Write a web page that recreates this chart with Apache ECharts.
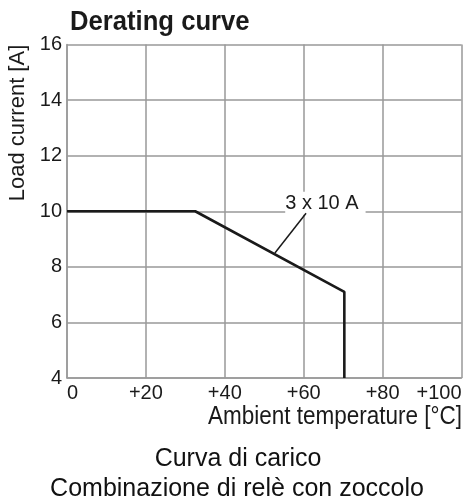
<!DOCTYPE html>
<html>
<head>
<meta charset="utf-8">
<script src="https://cdn.jsdelivr.net/npm/echarts@6/dist/echarts.min.js"></script>
<style>
html,body{margin:0;padding:0;background:#fff;}
#c{width:465px;height:503px;}
</style>
</head>
<body>
<div id="c"></div>
<script>
var titleText = 'Derating curve';
var xName = 'Ambient temperature [°C]';
var yName = 'Load current [A]';
var caption1 = 'Curva di carico';
var caption2 = 'Combinazione di relè con zoccolo';
var xTicks = [0, 20, 40, 60, 80, 100];
var yTicks = [4, 6, 8, 10, 12, 14, 16];
var curveTemp = [0, 32.5, 70.3, 70.3];
var curveCurrent = [10, 10, 7.1, 4];
var leaderTemp = [52.7, 60.6];
var leaderCurrent = [8.5, 9.93];
var annotation = { text: '3 x 10 A', temp: 65.5, current: 10.29 };

var sans = '"Liberation Sans", Arial, Helvetica, sans-serif';

var chart = echarts.init(document.getElementById('c'));
function pairs(xs, ys){ return xs.map(function(x,i){ return [x, ys[i]]; }); }

chart.setOption({
  animation: false,
  backgroundColor: '#fff',
  grid: { left: 67, right: 3.5, top: 44.5, bottom: 125, containLabel: false },
  xAxis: {
    type: 'value', min: xTicks[0], max: xTicks[xTicks.length-1], interval: 20,
    axisLine: { show: true, lineStyle: { color: '#999', width: 1.5 } },
    axisTick: { show: false },
    splitLine: { show: true, lineStyle: { color: '#999', width: 1.5 } },
    axisLabel: {
      margin: 5, color: '#1a1a1a', fontFamily: sans, fontSize: 20,
      alignMinLabel: 'left', alignMaxLabel: 'right',
      formatter: function(v){ return v === 0 ? '0' : '+' + v; }
    }
  },
  yAxis: {
    type: 'value', min: yTicks[0], max: yTicks[yTicks.length-1], interval: 2,
    axisLine: { show: true, lineStyle: { color: '#999', width: 1.5 } },
    axisTick: { show: false },
    splitLine: { show: true, lineStyle: { color: '#999', width: 1.5 } },
    axisLabel: { margin: 5, color: '#1a1a1a', fontFamily: sans, fontSize: 20 }
  },
  series: [
    {
      type: 'line', data: pairs(curveTemp, curveCurrent), symbol: 'none',
      lineStyle: { color: '#1a1a1a', width: 2.6 }, z: 5
    },
    {
      type: 'line', data: pairs(leaderTemp, leaderCurrent), symbol: 'none',
      lineStyle: { color: '#1a1a1a', width: 1.5 }, z: 4
    },
    {
      type: 'scatter', symbolSize: 0, z: 3,
      itemStyle: { opacity: 1 },
      data: [[annotation.temp, annotation.current]],
      label: {
        show: true, position: 'inside', formatter: annotation.text,
        color: '#1a1a1a', fontFamily: sans, fontSize: 20, opacity: 1,
        backgroundColor: '#fff', padding: [0, 7, 3, 0]
      }
    }
  ],
  graphic: [
    { type: 'text', x: 70, y: 23, scaleX: 0.95,
      style: { text: titleText, font: 'bold 27px ' + sans, fill: '#1a1a1a', verticalAlign: 'middle' } },
    { type: 'text', x: 18, y: 123, rotation: Math.PI/2,
      style: { text: yName, font: '22px ' + sans, fill: '#1a1a1a', align: 'center', verticalAlign: 'middle' } },
    { type: 'text', x: 462, y: 417, scaleX: 0.9,
      style: { text: xName, font: '25px ' + sans, fill: '#1a1a1a', align: 'right', verticalAlign: 'middle' } },
    { type: 'text', x: 238, y: 459,
      style: { text: caption1, font: '25px ' + sans, fill: '#111', align: 'center', verticalAlign: 'middle' } },
    { type: 'text', x: 237, y: 489,
      style: { text: caption2, font: '25px ' + sans, fill: '#111', align: 'center', verticalAlign: 'middle' } }
  ]
});
</script>
</body>
</html>
